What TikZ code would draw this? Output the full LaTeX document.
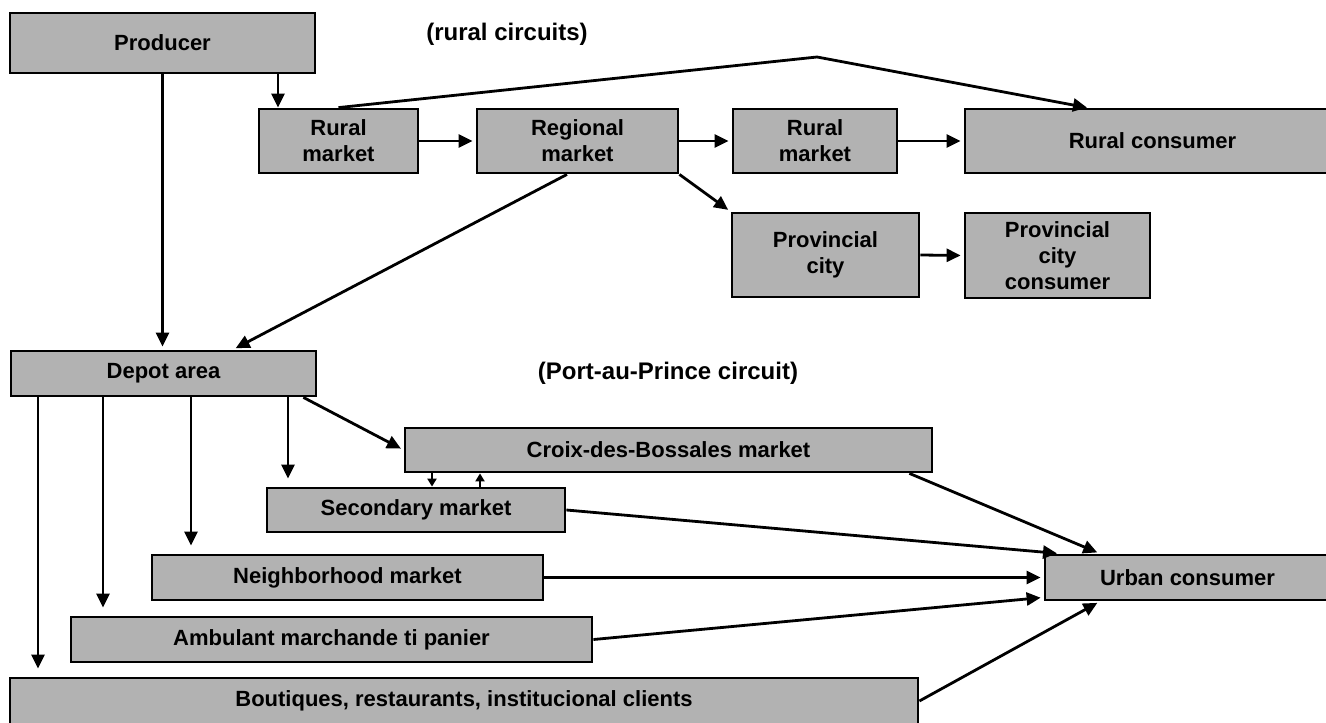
\documentclass[tikz,border=0pt]{standalone}
\usepackage{fontspec}
\setmainfont{Liberation Sans}
\usetikzlibrary{arrows.meta}
\tikzstyle{stage}=[draw, line width=1.4pt, fill=black!30, align=center, inner sep=0pt, font=\bfseries\fontsize{11}{13}\selectfont]
\tikzstyle{arr}=[line width=1.4pt, shorten >=1.5pt, -{Triangle[length=7pt,width=6.5pt]}]
\tikzstyle{minor}=[line width=1pt, -{Triangle[length=4pt,width=4.5pt]}]
\tikzstyle{heading}=[font=\bfseries\fontsize{12}{14}\selectfont]
\newcommand{\stage}{\node[stage]}

\begin{document}
\begin{tikzpicture}[x=0.5pt,y=-0.5pt]
\useasboundingbox (0,0) rectangle (1326,722);
% rural circuits
\node[heading] (rurallabel) at (507,34) {(rural circuits)};
\stage[minimum width=152.5pt, minimum height=30pt] (producer) at (162.5,43) {Producer};
\stage[minimum width=79.5pt, minimum height=32pt] (rural1) at (338.5,141) {Rural\\market};
\stage[minimum width=100.5pt, minimum height=32pt] (regional) at (577.5,141) {Regional\\market};
\stage[minimum width=82pt, minimum height=32pt] (rural2) at (815,141) {Rural\\market};
\stage[minimum width=187.5pt, minimum height=32pt] (ruralcons) at (1152.5,141) {Rural consumer};
\stage[minimum width=93.5pt, minimum height=42pt] (provcity) at (825.5,255) {Provincial\\city};
\stage[minimum width=92.5pt, minimum height=42.5pt] (provcons) at (1057.5,255.5) {Provincial\\city\\consumer};
% Port-au-Prince circuit
\node[heading] (portlabel) at (668,373) {(Port-au-Prince circuit)};
\stage[minimum width=152.5pt, minimum height=22.5pt] (depot) at (163.5,373.5) {Depot area};
\stage[minimum width=263.5pt, minimum height=22pt] (croix) at (668.5,450) {Croix-des-Bossales market};
\stage[minimum width=149pt, minimum height=22pt] (secondary) at (416,510) {Secondary market};
\stage[minimum width=195.5pt, minimum height=22.5pt] (neighbor) at (347.5,577.5) {Neighborhood market};
\stage[minimum width=260.5pt, minimum height=22.5pt] (ambulant) at (331.5,639.5) {Ambulant marchande ti panier};
\stage[minimum width=454pt, minimum height=23pt] (boutiques) at (464,701) {Boutiques, restaurants, institucional clients};
\stage[minimum width=142.5pt, minimum height=22.5pt] (urban) at (1187.5,577.5) {Urban consumer};

% rural flows
\coordinate (pr) at (278,0);
\draw[arr, shorten >=0pt] (producer.south -| pr) -- (rural1.north -| pr);
\draw[arr] (producer.south) -- (producer.south |- depot.north);
\draw[arr] (rural1.east) -- (regional.west);
\draw[arr] (regional.east) -- (rural2.west);
\draw[arr] (rural2.east) -- (ruralcons.west);
\coordinate (peak) at (817,57);
\coordinate (rc) at (1087,0);
\draw[arr, shorten >=0pt] (rural1.north) -- (peak) -- (ruralcons.north -| rc);
\coordinate (rg) at (567,0);
\coordinate (dp) at (233,0);
\draw[arr] (regional.south -| rg) -- (depot.north -| dp);
\draw[arr] (regional.south east) -- (provcity.north west);
\draw[arr] (provcity.east) -- (provcons.west);

% city flows
\foreach \x/\t in {38/boutiques, 103/ambulant, 191/neighbor, 288/secondary}{
	\coordinate (d\t) at (\x,0);
	\draw[arr, shorten >=4pt] (depot.south -| d\t) -- (\t.north -| d\t);
	}
\draw[arr] ([xshift=-7pt]depot.south east) -- (croix.west);
\coordinate (sd) at (432,0);
\coordinate (su) at (480,0);
\draw[minor] (croix.south -| sd) -- (secondary.north -| sd);
\draw[minor] (secondary.north -| su) -- (croix.south -| su);
\coordinate (ua) at (1060,0);
\coordinate (ub) at (1100,0);
\draw[arr] (secondary.east) -- (urban.north -| ua);
\draw[arr] ([xshift=-12pt]croix.south east) -- (urban.north -| ub);
\draw[arr] (neighbor.east) -- (neighbor.east -| urban.west);
\draw[arr] (ambulant.east) -- ([yshift=2pt]urban.south west);
\draw[arr] (boutiques.east) -- (urban.south -| ub);
\end{tikzpicture}
\end{document}
